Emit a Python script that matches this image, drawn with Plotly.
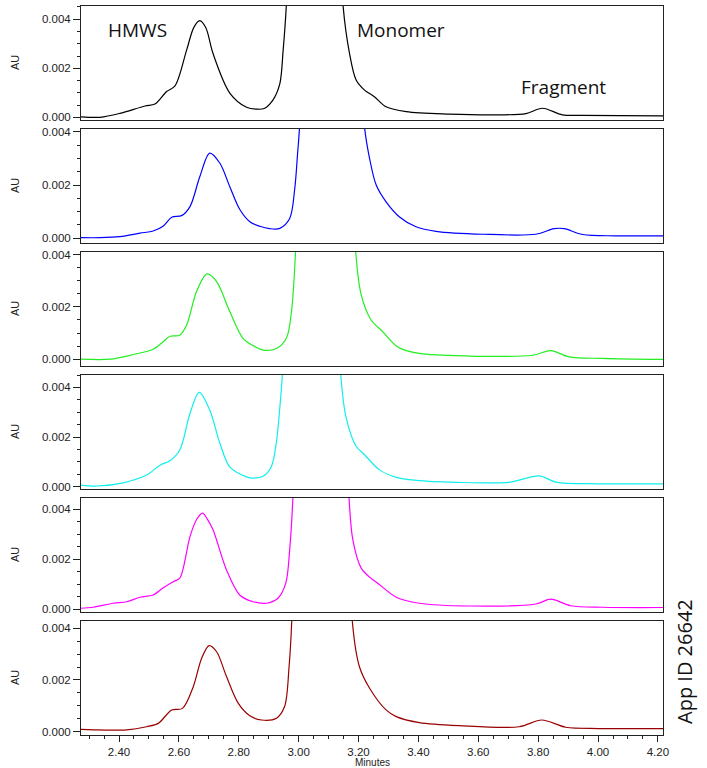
import plotly.graph_objects as go
from plotly.subplots import make_subplots

# ---- data (retention time in minutes, absorbance in AU) ----
x_black = [2.273, 2.337, 2.403, 2.487, 2.52, 2.559, 2.587, 2.626, 2.65, 2.67, 2.69, 2.714, 2.77, 2.826, 2.863, 2.885,
           2.914, 2.937, 2.948, 2.959, 2.975, 3.05, 3.13, 3.148, 3.17, 3.192, 3.22, 3.253, 3.292, 3.359, 3.503, 3.67,
           3.759, 3.814, 3.881, 3.948, 4.209, 4.217]
y_black = [0.00002, 0.0, 0.00016, 0.00046, 0.00054, 0.00105, 0.00128, 0.00275, 0.00367, 0.00394, 0.00365, 0.0026,
           0.00099, 0.00041, 0.00033, 0.00036, 0.0007, 0.00136, 0.0027, 0.0046, 0.01, 0.03, 0.01, 0.0046, 0.0026,
           0.00152, 0.00111, 0.00084, 0.00043, 0.00023, 0.00013, 0.0001, 0.00015, 0.00037, 0.0001, 0.00008, 0.00006,
           0.00006]

x_blue = [2.273, 2.337, 2.403, 2.47, 2.514, 2.548, 2.576, 2.609, 2.637, 2.67, 2.703, 2.737, 2.77, 2.803, 2.837, 2.87,
          2.903, 2.937, 2.97, 2.987, 2.996, 3.003, 3.02, 3.11, 3.205, 3.22, 3.237, 3.259, 3.292, 3.337, 3.392, 3.459,
          3.615, 3.792, 3.853, 3.887, 3.948, 4.059, 4.217]
y_blue = [0.00002, 0.00002, 0.00006, 0.00019, 0.00027, 0.00046, 0.00079, 0.00085, 0.00119, 0.00232, 0.0032, 0.00282,
          0.00194, 0.00109, 0.00062, 0.00045, 0.00036, 0.00037, 0.00074, 0.00187, 0.00312, 0.0042, 0.01, 0.03, 0.01,
          0.0042, 0.003, 0.002, 0.00137, 0.0008, 0.00043, 0.00026, 0.00015, 0.00015, 0.00036, 0.00036, 0.00014,
          0.00009, 0.00009]

x_green = [2.273, 2.37, 2.448, 2.514, 2.548, 2.57, 2.603, 2.626, 2.659, 2.694, 2.726, 2.77, 2.814, 2.848, 2.881, 2.926,
           2.959, 2.976, 2.99, 3.005, 3.09, 3.175, 3.19, 3.209, 3.242, 3.281, 3.331, 3.403, 3.57, 3.781, 3.842, 3.903,
           4.014, 4.217]
y_green = [0.0, 0.0, 0.00018, 0.00038, 0.00067, 0.00088, 0.00092, 0.00131, 0.00259, 0.00326, 0.00297, 0.00182, 0.0008,
           0.00052, 0.00035, 0.00041, 0.0008, 0.00182, 0.0042, 0.01, 0.03, 0.01, 0.0042, 0.00246, 0.0015, 0.00105,
           0.00047, 0.00022, 0.00012, 0.00015, 0.00033, 0.00009, 0.00003, -0.00001]

x_cyan = [2.273, 2.326, 2.414, 2.492, 2.537, 2.57, 2.603, 2.637, 2.668, 2.703, 2.737, 2.77, 2.826, 2.848, 2.881, 2.909,
          2.926, 2.937, 2.946, 2.96, 3.04, 3.125, 3.14, 3.159, 3.192, 3.22, 3.27, 3.326, 3.392, 3.526, 3.703, 3.803,
          3.859, 4.003, 4.217]
y_cyan = [0.00007, 0.00003, 0.00016, 0.00047, 0.00087, 0.00105, 0.00148, 0.00295, 0.0038, 0.00309, 0.00175, 0.0008,
          0.0004, 0.00035, 0.00042, 0.00082, 0.00183, 0.00317, 0.0046, 0.01, 0.03, 0.01, 0.0046, 0.00276, 0.00163,
          0.00129, 0.00068, 0.00038, 0.00026, 0.00018, 0.00018, 0.00044, 0.00019, 0.00012, 0.00012]

x_magenta = [2.273, 2.314, 2.381, 2.426, 2.47, 2.514, 2.548, 2.581, 2.603, 2.637, 2.66, 2.679, 2.695, 2.714, 2.759,
             2.803, 2.848, 2.892, 2.931, 2.957, 2.97, 2.981, 2.995, 3.075, 3.153, 3.168, 3.181, 3.209, 3.237, 3.264,
             3.326, 3.403, 3.57, 3.792, 3.842, 3.909, 4.014, 4.217]
y_magenta = [0.00004, 0.00008, 0.00024, 0.0003, 0.00048, 0.00057, 0.00086, 0.0011, 0.00124, 0.0029, 0.0036, 0.00384,
             0.0036, 0.00317, 0.00157, 0.00057, 0.0003, 0.00024, 0.00044, 0.00104, 0.00237, 0.0045, 0.01, 0.03, 0.01,
             0.0045, 0.00277, 0.00164, 0.00128, 0.00104, 0.00048, 0.00024, 0.00013, 0.00021, 0.0004, 0.00014, 0.00008,
             0.00007]

x_darkred = [2.273, 2.314, 2.426, 2.492, 2.531, 2.576, 2.612, 2.648, 2.676, 2.701, 2.726, 2.759, 2.798, 2.837, 2.876,
             2.926, 2.953, 2.968, 2.977, 2.99, 3.08, 3.165, 3.179, 3.203, 3.237, 3.292, 3.326, 3.403, 3.537, 3.737,
             3.812, 3.892, 4.003, 4.217]
y_darkred = [0.00009, 0.00007, 0.00007, 0.00019, 0.00032, 0.00084, 0.0009, 0.00174, 0.00284, 0.00333, 0.00309,
             0.00213, 0.0011, 0.00061, 0.00045, 0.00052, 0.00097, 0.00251, 0.0043, 0.01, 0.03, 0.01, 0.0043, 0.00251,
             0.00168, 0.00084, 0.00058, 0.00035, 0.00023, 0.00019, 0.00045, 0.00017, 0.00012, 0.00012]

series_x = [x_black, x_blue, x_green, x_cyan, x_magenta, x_darkred]
series_y = [y_black, y_blue, y_green, y_cyan, y_magenta, y_darkred]
series_colors = ["#000000", "#0000ff", "#22ee22", "#11eeee", "#ff00ff", "#990000"]
y_ranges = [[-0.00011, 0.00454], [-0.00018, 0.00411], [-0.00026, 0.0041],
            [-0.00009, 0.0045], [-0.00011, 0.00444], [-0.00013, 0.00428]]
x_range = [2.273, 4.217]
peak_labels = ["HMWS", "Monomer", "Fragment"]
peak_label_x = [2.463, 3.343, 3.883]
peak_label_y = [0.00356, 0.00356, 0.00124]

n = 6
fig = make_subplots(rows=n, cols=1, shared_xaxes=True, vertical_spacing=9 / 729)

for i in range(n):
    fig.add_trace(go.Scatter(x=series_x[i], y=series_y[i], mode="lines",
                             line=dict(color=series_colors[i], width=1.2, shape="spline", smoothing=0.9),
                             showlegend=False, hoverinfo="skip"), row=i + 1, col=1)

tick_font = dict(family="Liberation Sans, Arial, sans-serif", size=11.5, color="#222")
for i in range(n):
    last = (i == n - 1)
    fig.update_yaxes(range=y_ranges[i], tickmode="linear", tick0=0, dtick=0.002, tickformat=".3f",
                     ticks="outside", ticklen=7, tickcolor="#222", tickwidth=1,
                     minor=dict(dtick=0.0005, tick0=0, ticks="outside", ticklen=3, tickcolor="#222"),
                     showgrid=False, zeroline=False, showline=True, linecolor="#222", linewidth=1,
                     mirror=True, tickfont=tick_font, row=i + 1, col=1)
    fig.update_xaxes(range=x_range, showgrid=False, zeroline=False, showline=True, linecolor="#222",
                     linewidth=1, mirror=True, row=i + 1, col=1,
                     ticks="outside" if last else "", showticklabels=last,
                     tickmode="linear", tick0=0, dtick=0.2, tickformat=".2f",
                     ticklen=6, tickcolor="#222", tickfont=tick_font,
                     minor=dict(dtick=0.05, tick0=0, ticks="outside" if last else "", ticklen=3, tickcolor="#222"))

annotations = []
for lbl, lx, ly in zip(peak_labels, peak_label_x, peak_label_y):
    annotations.append(dict(x=lx, y=ly, xref="x", yref="y", text=lbl, showarrow=False,
                            font=dict(family="Open Sans, sans-serif", size=19, color="#111"),
                            xanchor="center", yanchor="middle"))

panel_centers_px = [63, 186, 309, 432, 555, 678]
for pc in panel_centers_px:
    annotations.append(dict(x=(15 - 81) / 582, y=(735 - pc) / 729, xref="paper", yref="paper", text="AU",
                            showarrow=False, textangle=-90,
                            font=dict(family="Liberation Sans, Arial, sans-serif", size=11, color="#222"),
                            xanchor="center", yanchor="middle"))

annotations.append(dict(x=(372 - 81) / 582, y=(735 - 762) / 729, xref="paper", yref="paper", text="Minutes",
                        showarrow=False, font=dict(family="Liberation Sans, Arial, sans-serif", size=10, color="#222"),
                        xanchor="center", yanchor="middle"))
annotations.append(dict(x=(684 - 81) / 582, y=(735 - 662) / 729, xref="paper", yref="paper", text="App ID 26642",
                        showarrow=False, textangle=-90,
                        font=dict(family="Open Sans, sans-serif", size=20, color="#111"),
                        xanchor="center", yanchor="middle"))

fig.update_layout(width=707, height=768, margin=dict(l=81, r=44, t=6, b=33, autoexpand=False),
                  plot_bgcolor="white", paper_bgcolor="white", annotations=annotations, showlegend=False)

fig.write_html("out.html", config={"displayModeBar": False},
               post_script="document.body.style.margin='0';document.body.style.overflow='hidden';")
